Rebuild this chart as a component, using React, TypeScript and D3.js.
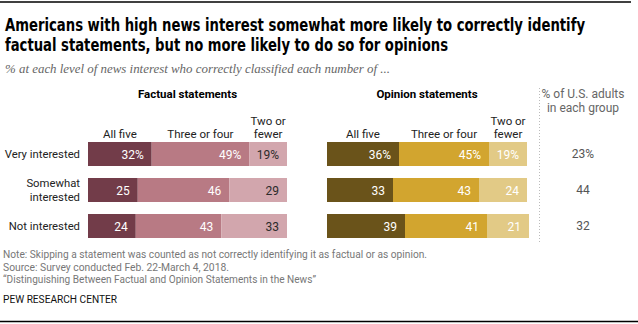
import React from "react";
import * as d3 from "d3";

const rows = ["Very interested", "Somewhat interested", "Not interested"];
const rowLabelLines = [["Very interested"], ["Somewhat", "interested"], ["Not interested"]];
const segments = ["All five", "Three or four", "Two or fewer"];
const factual = [
  [32, 49, 19],
  [25, 46, 29],
  [24, 43, 33],
];
const opinion = [
  [36, 45, 19],
  [33, 43, 24],
  [39, 41, 21],
];
const adultShare = [23, 44, 32];

const titleLines = [
  "Americans with high news interest somewhat more likely to correctly identify",
  "factual statements, but no more likely to do so for opinions",
];
const subtitle = "% at each level of news interest who correctly classified each number of ...";
const noteLines = [
  "Note: Skipping a statement was counted as not correctly identifying it as factual or as opinion.",
  "Source: Survey conducted Feb. 22-March 4, 2018.",
  "“Distinguishing Between Factual and Opinion Statements in the News”",
];

const factualColors = ["#723c49", "#b87a84", "#d2a6ad"];
const factualText = ["#ffffff", "#ffffff", "#2b2b2b"];
const opinionColors = ["#6a531a", "#d2a52f", "#e2ca86"];
const opinionText = ["#ffffff", "#ffffff", "#ffffff"];

const NARROW = "'Liberation Sans Narrow', 'DejaVu Sans Condensed', Roboto, Arial, sans-serif";
const SANS_R = "Roboto, 'Liberation Sans', Arial, sans-serif";

function Panel({ title, data, x, colors, textColors, y }) {
  const [x0, x1] = x.range();
  return (
    <g>
      <text x={(x0 + x1) / 2} y={98} textAnchor="middle" fontFamily={SANS_R} fontWeight="bold" fontSize={11.5} fill="#000">
        {title}
      </text>
      {segments.map((s, j) => {
        const r0 = data[0];
        const start = d3.sum(r0.slice(0, j));
        const cx = (x(start) + x(start + r0[j])) / 2;
        const lines = j === 2 ? ["Two or", "fewer"] : [s];
        return (
          <text key={s} x={cx} textAnchor="middle" fontFamily={SANS_R} fontSize={11.5} fill="#222">
            {lines.map((l, k) => (
              <tspan key={k} x={cx} y={138 - (lines.length - 1 - k) * 13.5}>{l}</tspan>
            ))}
          </text>
        );
      })}
      {data.map((row, i) => {
        let acc = 0;
        return (
          <g key={i}>
            {row.map((v, j) => {
              const a = acc;
              acc += v;
              const label = i === 0 ? `${v}%` : `${v}`;
              return (
                <g key={j}>
                  <rect x={x(a)} y={y(rows[i])} width={x(a + v) - x(a)} height={y.bandwidth()} fill={colors[j]} />
                  <text x={x(a + v) - 8} y={y(rows[i]) + y.bandwidth() / 2 + 4.5} textAnchor="end" fontFamily={SANS_R} fontSize={12} fill={textColors[j]}>
                    {label}
                  </text>
                </g>
              );
            })}
          </g>
        );
      })}
    </g>
  );
}

export default function App() {
  const W = 638, H = 324;
  const y = d3.scaleBand().domain(rows).range([136, 244]).paddingInner(1 / 3).paddingOuter(1 / 6);
  const xF = d3.scaleLinear().domain([0, 100]).range([88, 287]);
  const xO = d3.scaleLinear().domain([0, 100]).range([327, 527]);
  const titleW = [580, 443];
  const titleScale = 0.78;
  const noteW = [424, 226, 313];
  return (
    <svg width={W} height={H} style={{ position: "absolute", left: 0, top: 0, background: "#fff" }}>
      <rect x={0} y={0} width={W} height={H} fill="#fff" />
      <line x1={0} x2={631} y1={2} y2={2} stroke="#000" strokeWidth={1.5} />
      <g transform={`translate(5,0) scale(${titleScale},1)`}>
        {titleLines.map((t, i) => (
          <text key={i} x={0} y={31.5 + i * 20} fontFamily={NARROW} fontWeight="bold" fontSize={18.5} fill="#000"
            textLength={titleW[i] / titleScale} lengthAdjust="spacingAndGlyphs">
            {t}
          </text>
        ))}
      </g>
      <text x={5} y={73} fontFamily="'Liberation Serif', 'DejaVu Serif', serif" fontStyle="italic" fontSize={12.5} fill="#666"
        textLength={385} lengthAdjust="spacingAndGlyphs">
        {subtitle}
      </text>

      {rowLabelLines.map((lines, i) => {
        const cy = y(rows[i]) + y.bandwidth() / 2;
        return (
          <text key={i} textAnchor="end" fontFamily={SANS_R} fontSize={11.3} fill="#222">
            {lines.map((l, k) => (
              <tspan key={k} x={80} y={cy + 4 + (k - (lines.length - 1) / 2) * 13.5}>{l}</tspan>
            ))}
          </text>
        );
      })}

      <Panel title="Factual statements" data={factual} x={xF} colors={factualColors} textColors={factualText} y={y} />
      <Panel title="Opinion statements" data={opinion} x={xO} colors={opinionColors} textColors={opinionText} y={y} />

      <line x1={539.5} x2={539.5} y1={88} y2={244} stroke="#bbb" strokeWidth={1} strokeDasharray="1,2" />
      <text textAnchor="middle" fontFamily={SANS_R} fontSize={12} fill="#666">
        <tspan x={583} y={98}>% of U.S. adults</tspan>
        <tspan x={583} y={112}>in each group</tspan>
      </text>
      {adultShare.map((v, i) => (
        <text key={i} x={583} y={y(rows[i]) + y.bandwidth() / 2 + 4} textAnchor="middle" fontFamily={SANS_R} fontSize={12} fill="#555">
          {i === 0 ? `${v}%` : `${v}`}
        </text>
      ))}

      {noteLines.map((t, i) => (
        <text key={i} x={3} y={258 + i * 12.7} fontFamily={SANS_R} fontSize={10.5} fill="#777"
          textLength={noteW[i]} lengthAdjust="spacingAndGlyphs">
          {t}
        </text>
      ))}
      <text x={3} y={303} fontFamily={SANS_R} fontSize={10.5} fill="#111" textLength={114} lengthAdjust="spacingAndGlyphs">
        PEW RESEARCH CENTER
      </text>
      <line x1={0} x2={638} y1={321.5} y2={321.5} stroke="#000" strokeWidth={1.5} />
    </svg>
  );
}
